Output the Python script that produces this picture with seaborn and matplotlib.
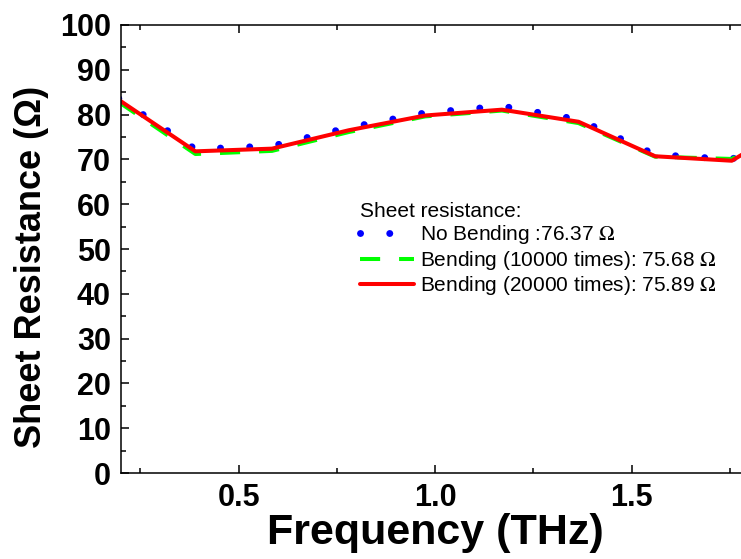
import numpy as np
import pandas as pd
import matplotlib
matplotlib.use("Agg")
import matplotlib.pyplot as plt
from matplotlib.ticker import MultipleLocator, FormatStrFormatter
import seaborn as sns

# Values
freq = [0.195, 0.39, 0.585, 0.78, 0.975, 1.17, 1.365, 1.56, 1.755, 1.95]
no_bending = [83.6, 72.3, 73.0, 77.1, 80.4, 81.9, 78.9, 71.1, 70.0, 80.3]
bending_10k = [82.8, 71.2, 71.9, 76.1, 79.6, 80.9, 78.1, 70.6, 70.1, 80.0]
bending_20k = [83.3, 71.8, 72.4, 76.5, 79.8, 81.1, 78.4, 70.7, 69.7, 80.0]

labels = [
    r"No Bending :76.37 $\Omega$",
    r"Bending (10000 times): 75.68 $\Omega$",
    r"Bending (20000 times): 75.89 $\Omega$",
]

df = pd.DataFrame({"freq": freq, "nb": no_bending, "b10": bending_10k, "b20": bending_20k})

sns.set_style("white")
plt.rcParams["font.family"] = ["Liberation Sans", "DejaVu Sans"]
plt.rcParams["mathtext.fontset"] = "stix"
plt.rcParams.update({
    "text.color": "black", "axes.labelcolor": "black",
    "xtick.color": "black", "ytick.color": "black",
    "xtick.direction": "in", "ytick.direction": "in",
    "xtick.bottom": True, "xtick.top": True, "ytick.left": True,
    "xtick.labelsize": 22, "ytick.labelsize": 22,
    "xtick.major.pad": 7.5, "ytick.major.pad": 7,
})

fig = plt.figure(figsize=(7.41, 5.59), dpi=100)
ax = fig.add_axes([0.1629, 0.1538, 1.0115 - 0.1629, 0.9553 - 0.1538])

sns.lineplot(data=df, x="freq", y="nb", ax=ax, color="#0000FF", lw=5.0,
             linestyle=(0, (0.01, 4.2)), dash_capstyle="round", label=labels[0])
sns.lineplot(data=df, x="freq", y="b10", ax=ax, color="#00FF00", lw=2.9,
             linestyle=(0, (5, 4.7)), label=labels[1])
sns.lineplot(data=df, x="freq", y="b20", ax=ax, color="#FF0000", lw=2.9,
             label=labels[2])

ax.set_xlim(0.2, 1.8)
ax.set_ylim(0, 100)
ax.xaxis.set_major_locator(MultipleLocator(0.5))
ax.xaxis.set_minor_locator(MultipleLocator(0.25))
ax.yaxis.set_major_locator(MultipleLocator(10))
ax.yaxis.set_minor_locator(MultipleLocator(5))
ax.xaxis.set_major_formatter(FormatStrFormatter("%.1f"))

for s in ["left", "bottom", "top"]:
    ax.spines[s].set_color("black")
    ax.spines[s].set_linewidth(1.1)
ax.spines["right"].set_visible(False)

ax.tick_params(which="both", direction="in", top=True, bottom=True, left=True,
               right=False, color="black", width=1.1)
ax.tick_params(which="major", length=6)
ax.tick_params(which="minor", length=3.5)
for t in ax.get_xticklabels() + ax.get_yticklabels():
    t.set_fontweight("bold")

ax.set_xlabel("Frequency (THz)", fontsize=31, fontweight="bold", labelpad=0)
ax.set_ylabel("Sheet Resistance (Ω)", fontsize=26, fontweight="bold", labelpad=8)
ax.yaxis.label.set_y(0.46)

leg = ax.legend(title="Sheet resistance:", loc="upper left",
                bbox_to_anchor=(360 / 741, 1 - 202 / 559), bbox_transform=fig.transFigure,
                frameon=False, fontsize=15, title_fontsize=15, borderpad=0,
                borderaxespad=0, labelspacing=0.12, handlelength=2.6,
                handletextpad=0.3, alignment="left")

plt.savefig("out.png", dpi=100)
plt.close()
